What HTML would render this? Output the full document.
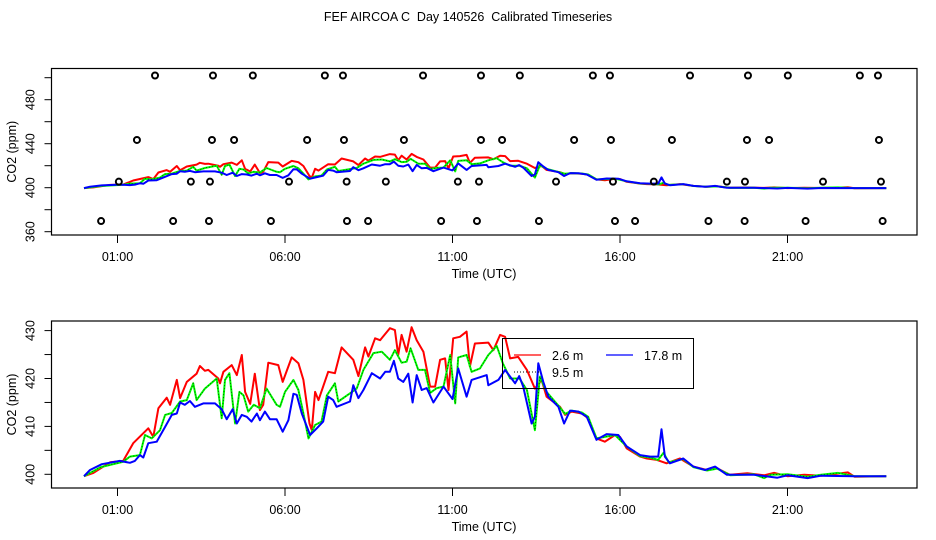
<!DOCTYPE html>
<html><head><meta charset="utf-8"><style>
html,body{margin:0;padding:0;background:#fff;}
svg{display:block;font-family:"Liberation Sans",Arial,sans-serif;}
</style></head><body>
<svg id="chart" width="936" height="540" viewBox="0 0 936 540">
<text x="468" y="21" text-anchor="middle" font-size="12.5" style="white-space:pre">FEF AIRCOA C  Day 140526  Calibrated Timeseries</text>
<g id="top"></g>
<g id="bot"></g>
</svg>
<script>
// ---- data ----
const xTickLabels = ["01:00","06:00","11:00","16:00","21:00"];
const xTickHours = [1,6,11,16,21];
const topYTicks = [360,380,400,420,440,460,480,500];
const topYLabels = [360,400,440,480];
const botYTicks = [400,405,410,415,420,425,430];
const botYLabels = [400,410,420,430];

const redT = [0,0.28,0.78,1.17,1.47,1.92,2.07,2.22,2.47,2.57,2.77,2.87,3.07,3.36,3.46,3.61,3.71,4.01,4.06,4.16,4.41,4.56,4.71,4.81,4.96,5.1,5.25,5.35,5.5,5.8,5.93,6.2,6.4,6.55,6.73,6.8,6.9,7.0,7.29,7.49,7.69,8.04,8.19,8.39,8.49,8.69,8.84,9.13,9.28,9.38,9.48,9.63,9.78,9.93,10.13,10.33,10.48,10.63,10.78,10.88,11.02,11.22,11.42,11.52,11.67,12.07,12.22,12.42,12.57,12.72,12.96,13.22,13.46,13.66,13.81,14.21,14.36,14.56,14.86,15.05,15.3,15.55,15.85,16.0,16.2,16.6,16.8,17.1,17.39,17.79,18.19,18.59,18.89,19.28,19.8,20.3,20.6,21.0,21.5,22.0,22.6,22.8,23.0,23.95];
const redV = [399.6,400.3,402.5,402.8,406.5,409.6,407.8,413.8,416,414.5,419.7,415.9,419.3,421,422.6,421.6,421.8,420,419,421.4,422.8,420.7,424.9,417.2,414.7,421,413.4,414.5,423.3,422.8,419.3,424.4,423.2,419.7,410.6,409.2,417.2,415.5,421.4,421.1,426.5,423.9,420.5,426.5,424.6,428.4,428,430.5,430.1,424.9,429.1,425.6,430.7,428,425.6,418.3,418.3,423.9,424.2,417.6,428.4,428.7,429.8,422.5,427.3,427.5,425.9,429.1,428.7,424.2,424.5,421.8,417.9,419.7,416.2,414.1,412.4,413.1,412.7,411.7,407.5,406.8,408.2,407.8,405.4,403.7,403.3,403,402.3,403.3,401.6,400.9,401.3,399.9,400.2,399.8,400.3,399.6,399.9,399.7,400.2,400.4,399.5,399.6];

const greenT = [0,0.5,1.17,1.37,1.67,1.82,2.02,2.27,2.42,2.62,2.87,3.07,3.26,3.36,3.61,3.96,4.11,4.21,4.34,4.51,4.64,4.76,4.9,5.07,5.25,5.45,5.75,5.85,6.0,6.25,6.4,6.55,6.7,6.9,7.09,7.25,7.49,7.59,7.94,8.14,8.34,8.64,8.89,9.13,9.28,9.48,9.63,9.75,9.98,10.18,10.33,10.53,10.73,10.93,11.08,11.17,11.42,11.57,11.82,12.07,12.32,12.5,12.72,13.0,13.22,13.46,13.61,13.81,14.2,14.36,14.56,14.86,15.05,15.3,15.55,15.85,16.2,16.6,16.9,17.14,17.3,17.45,17.89,18.19,18.6,18.9,19.3,20.0,20.3,20.5,21.0,21.6,22.0,22.5,23.0,23.95];
const greenV = [399.6,401.5,402.6,403.7,404,408.2,407.5,409.2,412.4,412.8,415.2,415.5,419,415.5,417.9,420,411.7,419.7,421.1,410.6,417.2,416.5,413.1,414.5,413.8,417.9,414.5,414.1,417.2,419.7,417.6,412.7,407.5,410.3,411,416.5,419,415.2,416.9,417.9,421.8,425.3,425.6,423.9,425.9,423.3,423.5,426.3,421.8,421.8,417,418,418.3,424.9,414.8,424.4,424.9,421.4,422.1,424.9,426.8,423.2,420,420,417.6,409.2,420.4,417.2,414,412.6,413.3,412.9,412,407.5,407.8,408.2,405.8,403.8,403.5,403,404.5,402.5,403.2,401.5,400.8,401.2,399.8,400,399.2,399.9,400,399.5,399.9,400.3,399.6,399.6];

const blueT = [0,0.18,0.53,1.07,1.37,1.52,1.67,1.77,1.92,2.17,2.42,2.62,2.77,2.87,3.01,3.16,3.31,3.56,3.91,4.11,4.26,4.44,4.56,4.71,4.86,5.0,5.16,5.25,5.4,5.55,5.75,5.93,6.1,6.25,6.35,6.5,6.75,6.95,7.14,7.29,7.44,7.54,7.94,8.04,8.19,8.34,8.59,8.84,8.99,9.13,9.25,9.38,9.53,9.68,9.81,9.93,10.08,10.23,10.43,10.73,11.0,11.17,11.42,11.57,12.02,12.07,12.37,12.57,12.72,12.87,12.99,13.11,13.36,13.46,13.56,13.71,13.86,14.16,14.33,14.51,14.76,15.01,15.3,15.6,15.95,16.2,16.6,16.9,17.14,17.24,17.34,17.49,17.89,18.19,18.54,18.84,19.19,20.0,20.7,21.0,21.6,22.0,23.0,23.95];
const blueV = [399.6,400.9,402.1,402.8,402.4,402.8,404,403.5,406.5,406.8,409.9,412.4,412.7,415,414.5,415.3,414.1,414.8,414.8,413.6,411.5,413.6,410.6,412.4,412,411,412.7,411.3,413.1,411.5,411.5,408.9,411.3,416.8,416.6,412.7,408.2,409.6,411,416.2,415.5,414.1,415.2,418.6,415.9,417.6,421.1,420,421.4,421.4,423.7,420,419.3,421,415,420.7,417.6,418,415,418.3,415.7,422.1,416.2,419.7,420.7,418.6,419.7,421.8,420.4,419,420.5,418.3,410.6,412,423.2,419.3,416.2,414.1,410.6,413.3,413.1,412,407.2,408.4,408.2,405.8,404,403.7,403.7,409.4,403.7,402.3,403.3,401.6,400.9,401.6,399.9,399.9,399.3,399.8,399.2,399.7,399.6,399.6];

// flag circles (top panel)
const flagT = [2.12,3.85,5.04,7.19,7.73,10.12,11.85,13.01,15.19,15.70,18.09,19.82,21.01,23.16,23.70,
  1.58,3.82,4.48,6.66,7.76,9.55,11.85,12.48,14.63,15.73,17.55,19.79,20.45,23.73,
  1.04,3.19,3.76,6.12,7.84,9.01,11.16,11.79,14.09,15.79,17.01,19.19,19.73,22.06,23.79,
  0.51,2.66,3.73,5.58,7.85,8.48,10.66,11.73,13.58,15.85,16.45,18.64,19.72,21.54,23.84];
const flagV = [502,502,502,502,502,502,502,502,502,502,502,502,502,502,502,
  443.4,443.4,443.4,443.4,443.4,443.4,443.4,443.4,443.4,443.4,443.4,443.4,443.4,443.4,
  405.5,405.5,405.5,405.5,405.5,405.5,405.5,405.5,405.5,405.5,405.5,405.5,405.5,405.5,405.5,
  369.7,369.7,369.7,369.7,369.7,369.7,369.7,369.7,369.7,369.7,369.7,369.7,369.7,369.7,369.7];

// ---- drawing ----
const NS = "http://www.w3.org/2000/svg";
function mk(parent, tag, attrs, text){const e=document.createElementNS(NS,tag);for(const k in attrs)e.setAttribute(k,attrs[k]);if(text!==undefined)e.textContent=text;parent.appendChild(e);return e;}
const xS = t => 117.5 + 33.5*(t-1);

function panel(g, box, yS, yTicks, yLabels, isTop){
  const clipId = isTop ? "clipTop" : "clipBot";
  const defs = mk(g,"defs",{});
  const cp = mk(defs,"clipPath",{id:clipId});
  mk(cp,"rect",{x:box.l,y:box.t,width:box.r-box.l,height:box.b-box.t});
  const frame = mk(g,"rect",{x:box.l,y:box.t,width:box.r-box.l,height:box.b-box.t,fill:"none",stroke:"#000","stroke-width":1.2});
  
  
  xTickHours.forEach((h,i)=>{
    const x=xS(h);
    const tk=mk(g,"line",{x1:x,x2:x,y1:box.b,y2:box.b+8,stroke:"#000"});
    
    
    const lb=mk(g,"text",{x:x,y:box.b+26,"text-anchor":"middle","font-size":12.5},xTickLabels[i]);
    
    
  });
  yTicks.forEach(v=>{
    const y=yS(v);
    const tk=mk(g,"line",{x1:box.l-7,x2:box.l,y1:y,y2:y,stroke:"#000"});
    
    
  });
  yLabels.forEach(v=>{
    const y=yS(v);
    const lb=mk(g,"text",{x:0,y:0,"text-anchor":"middle","font-size":12.5,transform:`translate(${box.l-17},${y}) rotate(-90)`},String(v));
    
    
  });
  const xt=mk(g,"text",{x:484,y:box.b+43,"text-anchor":"middle","font-size":12.5},"Time (UTC)");
  
  
  const cy=(box.t+box.b)/2;
  const yt=mk(g,"text",{x:0,y:0,"text-anchor":"middle","font-size":12.5,transform:`translate(16,${cy}) rotate(-90)`},"CO2 (ppm)");
  
  
  const lines = mk(g,"g",{"clip-path":`url(#${clipId})`});
  const series=[[redT,redV,"#ff0000","series-2-6m"],[greenT,greenV,"#00ff00","series-9-5m"],[blueT,blueV,"#0000ff","series-17-8m"]];
  series.forEach(s=>{
    const d=s[0].map((t,i)=>(i?"L":"M")+xS(t).toFixed(1)+","+yS(s[1][i]).toFixed(1)).join("");
    const p=mk(lines,"path",{d:d,fill:"none",stroke:s[2],"stroke-width":2,"stroke-linejoin":"round"});
    
    
    if(s[3]==="series-9-5m"){
      const p2=mk(lines,"path",{d:d,fill:"none",stroke:"#000","stroke-width":0.6,"stroke-dasharray":"1 2"});
      
      
    }
  });
  if(isTop){
    flagT.forEach((t,i)=>{
      const c=mk(g,"circle",{cx:xS(t),cy:yS(flagV[i]),r:3,fill:"none",stroke:"#000","stroke-width":2});
      
      
    });
  }
}
const topBox={l:51.5,r:917,t:68.5,b:235};
const botBox={l:51.5,r:917,t:321,b:488};
panel(document.getElementById("top"), topBox, v=>231.7-(v-360)*1.1, topYTicks, topYLabels, true);
panel(document.getElementById("bot"), botBox, v=>474.3-(v-400)*4.79, botYTicks, botYLabels, false);

// legend
const bg=document.getElementById("bot");
const lg=mk(bg,"g",{});


mk(lg,"rect",{x:502.5,y:338.5,width:191,height:50,fill:"none",stroke:"#000","stroke-width":1});
const legItems=[[514,355,"#ff0000","2.6 m",""],[606,355,"#0000ff","17.8 m",""],[514,372,"#000","9.5 m","1 2"]];
legItems.forEach(it=>{
  const e=mk(lg,"g",{});
  
  
  const ln=mk(e,"line",{x1:it[0],x2:it[0]+27,y1:it[1],y2:it[1],stroke:it[2],"stroke-width":it[4]?1:1.2});
  if(it[4])ln.setAttribute("stroke-dasharray",it[4]);
  mk(e,"text",{x:it[0]+38,y:it[1]+5,"font-size":12.5},it[3]);
});
</script>
</body></html>
